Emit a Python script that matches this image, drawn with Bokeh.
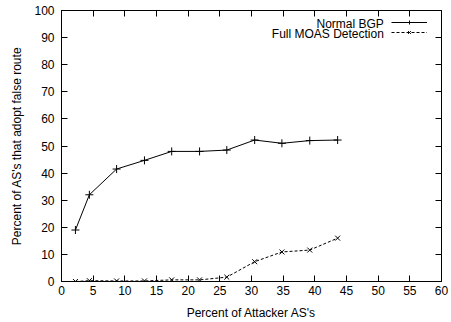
from bokeh.plotting import figure
from bokeh.models import (LinearAxis, SingleIntervalTicker, Range1d, Legend, LegendItem, Label)
from bokeh.embed import file_html
from bokeh.resources import INLINE

attacker_pct = [2.2, 4.4, 8.7, 13.1, 17.4, 21.8, 26.1, 30.5, 34.8, 39.2, 43.6]
normal_bgp = [19.0, 32.0, 41.5, 44.7, 48.0, 48.0, 48.5, 52.2, 51.0, 52.0, 52.2]
full_moas = [0.0, 0.3, 0.2, 0.2, 0.6, 0.6, 1.6, 7.3, 10.9, 11.6, 16.0]

x_ticks_interval = 5
y_ticks_interval = 10

FONT = "Liberation Sans"

p = figure(width=451, height=322, output_backend="svg", toolbar_location=None,
           x_range=Range1d(0, 60), y_range=Range1d(0, 100),
           min_border_left=61, min_border_right=10, min_border_top=10, min_border_bottom=40)
p.xgrid.visible = False
p.ygrid.visible = False
p.outline_line_color = "black"
p.outline_line_width = 1
p.background_fill_color = "white"
p.border_fill_color = "white"

xt = SingleIntervalTicker(interval=x_ticks_interval, num_minor_ticks=0)
yt = SingleIntervalTicker(interval=y_ticks_interval, num_minor_ticks=0)

def style_axis(ax, labels=True):
    ax.major_tick_in = 6
    ax.major_tick_out = 0
    ax.minor_tick_in = 0
    ax.minor_tick_out = 0
    ax.major_tick_line_color = "black"
    ax.axis_line_color = "black"
    ax.major_label_text_font = FONT
    ax.major_label_text_font_size = "12px"
    ax.major_label_text_color = "black" if labels else None
    ax.axis_label_text_font = FONT
    ax.axis_label_text_font_size = "12px"
    ax.axis_label_text_font_style = "normal"
    ax.axis_label_text_color = "black"

p.xaxis.ticker = xt
p.yaxis.ticker = yt
style_axis(p.xaxis[0])
style_axis(p.yaxis[0])
p.xaxis.axis_label = "Percent of Attacker AS's"
p.yaxis.axis_label = "Percent of AS's that adopt false route"
p.xaxis.major_label_standoff = 4
p.yaxis.major_label_standoff = 7
p.xaxis.axis_label_standoff = 8
p.yaxis.axis_label_standoff = 7

top = LinearAxis(ticker=SingleIntervalTicker(interval=x_ticks_interval, num_minor_ticks=0))
right = LinearAxis(ticker=SingleIntervalTicker(interval=y_ticks_interval, num_minor_ticks=0))
for ax in (top, right):
    style_axis(ax, labels=False)
    ax.major_label_standoff = 0
    ax.axis_label_standoff = 0
p.add_layout(top, "above")
p.add_layout(right, "right")

r1 = p.line(attacker_pct, normal_bgp, line_color="black", line_width=1)
m1 = p.scatter(attacker_pct, normal_bgp, marker="cross", size=8, line_color="black", line_width=1)
r2 = p.line(attacker_pct, full_moas, line_color="black", line_width=1, line_dash="3 2")
m2 = p.scatter(attacker_pct, full_moas, marker="x", size=7, line_color="black", line_width=1)

legend = Legend(items=[LegendItem(label=" ", renderers=[r1, m1]),
                       LegendItem(label=" ", renderers=[r2, m2])],
                location=(330, 244), orientation="vertical",
                glyph_width=36, glyph_height=10, label_height=10, label_width=0,
                spacing=0, padding=0, margin=0,
                border_line_color=None, background_fill_alpha=0,
                label_text_color=None)
p.add_layout(legend, "center")

for txt, yv in (("Normal BGP", 95.0), ("Full MOAS Detection", 91.5)):
    p.add_layout(Label(x=50.9, y=yv, text=txt, text_align="right", text_baseline="middle",
                       text_font=FONT, text_font_size="12px", text_color="black"))

open("out.html", "w").write(file_html(p, INLINE))
